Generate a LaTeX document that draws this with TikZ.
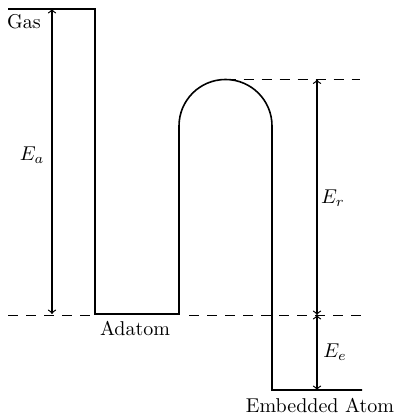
\documentclass[tikz,border=0pt]{standalone}
\usetikzlibrary{arrows, positioning, calc}
\tikzset{
  lvl/.style={thick, line join=miter},
  ref/.style={thin, dash pattern=on 5pt off 4pt},
  ener/.style={<->, >=to, semithick},
  elab/.style={inner sep=1pt}
}

\begin{document}
\begin{tikzpicture}[x=0.5pt, y=-0.5pt]
		\useasboundingbox (0,0) rectangle (399,415);
		% energy curve
		\coordinate (gasL) at (8,9);
		\coordinate (gasR) at (95,9);
		\coordinate (adL) at (95,314);
		\coordinate (adR) at (179,314);
		\coordinate (barL) at (179,126);
		\coordinate (barR) at (272,126);
		\coordinate (peak) at (225.5,79.5);
		\coordinate (embL) at (272,390);
		\coordinate (embR) at (362,390);
		\draw[lvl] (gasL) -- (gasR) -- (adL) -- (adR) -- (barL)
			arc[start angle=180, end angle=360, radius=46.5] -- (embL) -- (embR);
		% reference levels
		\coordinate (refL) at (8,315);
		\coordinate (refM) at (189,315);
		\coordinate (refR) at (365,315);
		\coordinate (topR) at (360,79.5);
		\draw[ref] (refL) -- (adL |- refL);
		\draw[ref] (refM) -- (refR);
		\draw[ref] (peak) -- (topR);
		% energies
		\coordinate (eaT) at (52,9);
		\coordinate (eaB) at (52,314);
		\coordinate (erT) at (317,79.5);
		\coordinate (erB) at (317,315);
		\coordinate (eeB) at (317,390);
		\draw[ener] (eaT) -- (eaB);
		\draw[ener] (erT) -- (erB);
		\draw[ener] (erB) -- (eeB);
		\node[elab] (ea) at (32,155) {$E_a$};
		\node[elab] (er) at (333,198) {$E_r$};
		\node[elab] (ee) at (335,352) {$E_e$};
		% states
		\node[elab] (gas) at (24,22) {Gas};
		\node[elab] (adatom) at (135,328) {Adatom};
		\node[elab] (embed) at (320,405) {Embedded Atom};
	\end{tikzpicture}
\end{document}
